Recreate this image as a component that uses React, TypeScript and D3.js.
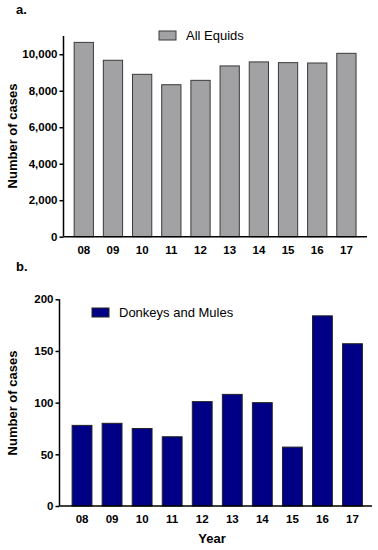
import React, { useRef, useEffect } from 'react';
import * as d3 from 'd3';

const years = ['08', '09', '10', '11', '12', '13', '14', '15', '16', '17'];
const allEquids = [10650, 9670, 8900, 8330, 8570, 9360, 9580, 9540, 9520, 10050];
const donkeysMules = [78, 80, 75, 67, 101, 108, 100, 57, 184, 157];
const ticksA = [0, 2000, 4000, 6000, 8000, 10000];
const ticksB = [0, 50, 100, 150, 200];

const FONT = '"Liberation Sans", Arial, sans-serif';

const App = () => {
  const ref = useRef<SVGSVGElement>(null);

  useEffect(() => {
    const svg = d3.select(ref.current);
    svg.selectAll('*').remove();

    const drawPanel = (opts: any) => {
      const { values, ticks, yMax, axisX, axisRight, top, bottom, bandL, bandR, fill, stroke, letter, letterY, legend, legendX, legendY, fmt, labelY } = opts;

      const g = svg.append('g');

      const x = d3.scaleBand<string>().domain(years).range([bandL, bandR]).paddingInner(0.34).paddingOuter(0.17);
      const y = d3.scaleLinear().domain([0, yMax]).range([bottom, top]);

      // bars
      g.selectAll('rect.bar')
        .data(values)
        .enter()
        .append('rect')
        .attr('class', 'bar')
        .attr('x', (d, i) => x(years[i]))
        .attr('y', (d: number) => y(d))
        .attr('width', x.bandwidth())
        .attr('height', (d: number) => bottom - y(d))
        .attr('fill', fill)
        .attr('stroke', stroke)
        .attr('stroke-width', 1);

      // y axis
      const yAxis = d3.axisLeft(y).tickValues(ticks).tickSize(4).tickPadding(2).tickFormat(fmt);
      const ya = g.append('g').attr('transform', `translate(${axisX},0)`).call(yAxis);
      ya.select('.domain').attr('stroke-width', 1.5).attr('d', `M0,${top}V${bottom}`);
      ya.selectAll('.tick line').attr('stroke-width', 1.5);
      ya.selectAll('text').attr('font-family', FONT).attr('font-size', 11.5).attr('font-weight', 'bold').attr('fill', '#000');

      // x axis
      const xAxis = d3.axisBottom(x).tickSize(0).tickPadding(9);
      const xa = g.append('g').attr('transform', `translate(0,${bottom})`).call(xAxis);
      xa.select('.domain').attr('stroke-width', 1.5).attr('d', `M${axisX},0H${axisRight}`);
      xa.selectAll('text').attr('font-family', FONT).attr('font-size', 11.5).attr('font-weight', 'bold').attr('fill', '#000');

      // y label
      g.append('text')
        .attr('transform', `translate(17,${labelY}) rotate(-90)`)
        .attr('text-anchor', 'middle')
        .attr('font-family', FONT)
        .attr('font-size', 13)
        .attr('font-weight', 'bold')
        .text('Number of cases');

      // panel letter
      g.append('text')
        .attr('x', 16)
        .attr('y', letterY)
        .attr('font-family', FONT)
        .attr('font-size', 13)
        .attr('font-weight', 'bold')
        .text(letter);

      // legend
      g.append('rect')
        .attr('x', legendX)
        .attr('y', legendY - 4)
        .attr('width', 17)
        .attr('height', 9)
        .attr('fill', fill)
        .attr('stroke', stroke)
        .attr('stroke-width', 1);
      g.append('text')
        .attr('x', legendX + 27)
        .attr('y', legendY + 5)
        .attr('font-family', FONT)
        .attr('font-size', 13)
        .text(legend);
    };

    drawPanel({
      values: allEquids,
      ticks: ticksA,
      yMax: 11000,
      axisX: 63.5,
      axisRight: 367,
      top: 36,
      bottom: 236.7,
      bandL: 69.2,
      bandR: 361,
      fill: '#a2a2a5',
      stroke: '#3a3a3a',
      letter: 'a.',
      letterY: 14,
      legend: 'All Equids',
      legendX: 159,
      legendY: 35,
      fmt: d3.format(','),
      labelY: 136,
    });

    drawPanel({
      values: donkeysMules,
      ticks: ticksB,
      yMax: 200,
      axisX: 59.5,
      axisRight: 372,
      top: 299.3,
      bottom: 506,
      bandL: 67,
      bandR: 367.5,
      fill: '#000087',
      stroke: '#222',
      letter: 'b.',
      letterY: 271,
      legend: 'Donkeys and Mules',
      legendX: 92,
      legendY: 312,
      fmt: d3.format('d'),
      labelY: 403,
    });

    svg.append('text')
      .attr('x', 212)
      .attr('y', 543)
      .attr('text-anchor', 'middle')
      .attr('font-family', FONT)
      .attr('font-size', 13)
      .attr('font-weight', 'bold')
      .text('Year');
  }, []);

  return (
    <div style={{ position: 'absolute', left: 0, top: 0 }}>
      <svg ref={ref} width={378} height={550} style={{ display: 'block', background: '#fff' }} />
    </div>
  );
};

export default App;
